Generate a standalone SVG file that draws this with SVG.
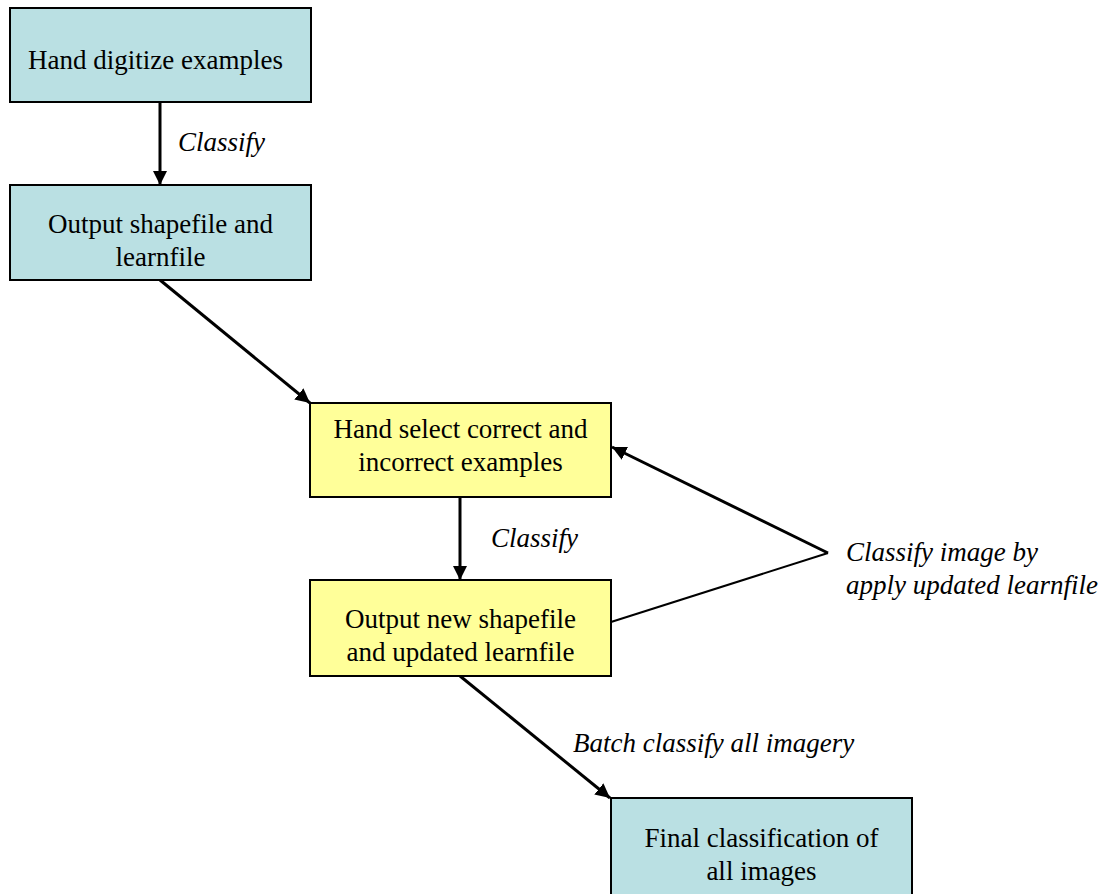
<svg xmlns="http://www.w3.org/2000/svg" width="1108" height="894" viewBox="0 0 1108 894">
<style>
.box{stroke:#000;stroke-width:2}
.teal{fill:#BAE0E3}
.yel{fill:#FFFF99}
.t{font-family:'Liberation Serif','Times New Roman',serif;font-size:27px;fill:#000;text-anchor:middle}
.lbl{font-family:'Liberation Serif','Times New Roman',serif;font-size:27px;font-style:italic;fill:#000}
.c{stroke:#000;fill:none}
</style>
<defs>
<marker id="ah" viewBox="0 0 10 10" refX="10" refY="5" markerWidth="4.8" markerHeight="4.8" markerUnits="strokeWidth" orient="auto">
<path d="M0,0 L10,5 L0,10 z" fill="#000"/>
</marker>
</defs>
<rect width="1108" height="894" fill="#fff"/>
<g id="connectors">
<line class="c" x1="160" y1="102" x2="160" y2="185" stroke-width="3" marker-end="url(#ah)"/>
<line class="c" x1="160" y1="280" x2="310" y2="403" stroke-width="3" marker-end="url(#ah)"/>
<line class="c" x1="460" y1="497" x2="460" y2="580" stroke-width="3" marker-end="url(#ah)"/>
<line class="c" x1="460" y1="676" x2="610" y2="798" stroke-width="3" marker-end="url(#ah)"/>
<polyline class="c" points="611,622 828,553" stroke-width="2"/>
<line class="c" x1="828" y1="553" x2="612" y2="447" stroke-width="3" marker-end="url(#ah)"/>
</g>
<g id="label-classify1"><text class="lbl" x="178" y="151">Classify</text></g>
<g id="label-classify2"><text class="lbl" x="491" y="547">Classify</text></g>
<g id="label-batch"><text class="lbl" x="573" y="752">Batch classify all imagery</text></g>
<g id="label-feedback"><text class="lbl" x="846" y="561">Classify image by</text><text class="lbl" x="846" y="594">apply updated learnfile</text></g>
<g id="n1"><rect class="box teal" x="10" y="8" width="301" height="94"/><text class="t" x="155.5" y="69">Hand digitize examples</text></g>
<g id="n2"><rect class="box teal" x="10" y="185" width="301" height="95"/><text class="t" x="160.5" y="233">Output shapefile and</text><text class="t" x="160.5" y="266">learnfile</text></g>
<g id="n3"><rect class="box yel" x="310" y="403" width="301" height="94"/><text class="t" x="460.5" y="438">Hand select correct and</text><text class="t" x="460.5" y="471">incorrect examples</text></g>
<g id="n4"><rect class="box yel" x="310" y="580" width="301" height="96"/><text class="t" x="460.5" y="628">Output new shapefile</text><text class="t" x="460.5" y="661">and updated learnfile</text></g>
<g id="n5"><rect class="box teal" x="611" y="798" width="301" height="100"/><text class="t" x="761.5" y="847">Final classification of</text><text class="t" x="761.5" y="880">all images</text></g>
</svg>
